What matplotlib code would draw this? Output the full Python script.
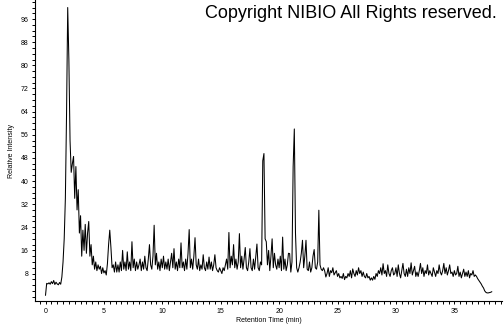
import numpy as np
import matplotlib
matplotlib.use("Agg")
import matplotlib.pyplot as plt
from matplotlib.ticker import MultipleLocator, FixedLocator

# Retention time sampling (min)
t_start = 0.0
t_step = 0.1

# Relative intensity, one row per minute (10 samples per row)
intensity = [
    0.5, 4.6, 4.4, 4.8, 4.3, 5.2, 4.5, 5.6, 4.2, 5.0,        # 0
    4.4, 4.1, 4.9, 4.3, 6.8, 12, 20, 34, 63, 100,            # 1
    82, 54, 43, 46, 48.5, 34, 45, 30, 37, 22,                # 2
    28, 14, 23, 16, 25, 15, 22, 26, 14, 18,                  # 3
    11, 14, 9.5, 12, 9, 11, 9.5, 10.5, 8, 10,                # 4
    8.2, 9, 7.5, 11.4, 18, 23, 17, 10, 11, 8.5,              # 5
    12, 8.5, 11, 8.5, 12, 9, 16, 9.5, 12, 9,                 # 6
    15.5, 9.5, 12, 9, 19, 10, 13, 9, 12, 9.5,                # 7
    11, 13, 9, 12, 9.5, 14, 10, 9, 13, 18,                   # 8
    11, 9.5, 14, 24.7, 11, 15, 9.5, 12, 9, 13,               # 9
    10, 14, 9.5, 12, 9.5, 13, 9, 12, 15, 10,                 # 10
    16.6, 9.5, 12, 9, 13, 10, 18.6, 10, 12, 9,               # 11
    13, 9.5, 15, 23.2, 10, 13, 9.5, 14, 20.4, 11,            # 12
    9.5, 13, 9, 11, 9.5, 14.5, 10, 9, 12, 9.5,               # 13
    13.7, 9.5, 12, 9, 11, 14.5, 10, 9, 8.5, 10,              # 14
    9, 8, 10, 9, 11, 13, 9.5, 22.2, 10, 14,                  # 15
    11, 18, 10, 13, 9.5, 12, 21.8, 10, 14, 9.5,              # 16
    13, 17, 10, 9, 12, 16.6, 10, 9, 13, 9.5,                 # 17
    14, 18.2, 10, 9, 12, 11, 47, 49.5, 20, 19,               # 18
    11, 16, 9, 14, 20, 10, 15, 11, 9.5, 13,                  # 19
    10, 14, 9, 20.6, 9.5, 13, 9, 11, 15, 14.9,               # 20
    8.5, 12, 45, 58, 22, 10, 8.5, 10, 12, 15,                # 21
    19.5, 10, 14, 19.5, 9.5, 9, 12, 8.5, 10, 14,             # 22
    16.3, 10, 9.5, 12, 29.9, 11, 9.5, 9, 10, 8.9,            # 23
    6.8, 8, 10, 7, 9, 8.3, 10, 7.5, 8.3, 9,                  # 24
    7, 8, 6.5, 7, 6.3, 8, 5.9, 7, 6.5, 8,                    # 25
    7, 9, 6.5, 9.6, 8, 7, 9, 7.5, 10, 8,                     # 26
    9, 7, 8.5, 7, 6.5, 8, 6.5, 7, 5.7, 6.5,                  # 27
    5.7, 7, 6, 8, 7, 9, 8, 10, 7.5, 11.4,                    # 28
    8, 9, 7, 11, 8, 7, 9, 10, 7.5, 8,                        # 29
    10, 7, 11, 8, 6.5, 9, 11.5, 8, 7, 9.5,                   # 30
    7, 10, 8, 11.7, 7.5, 9, 10.5, 7, 8.5, 7,                 # 31
    9, 11.5, 8, 10, 7, 9, 8, 11, 7.5, 9,                     # 32
    8, 7, 10, 8.5, 7, 9, 8, 11, 8.5, 7.5,                    # 33
    9, 11.5, 8, 10, 7.5, 9, 11, 8, 8.5, 7,                   # 34
    9, 7.5, 8, 10.5, 7, 8.5, 6.5, 8, 9.5, 7,                 # 35
    8.5, 7, 9, 6.5, 8, 7.5, 9, 7, 7.5, 7,                    # 36
    6.2, 5.6, 5.0, 4.4, 3.6, 3.0, 2.0, 1.5, 1.3, 1.3,        # 37
    1.4, 1.5, 1.7,                                           # 38
]

x_major = [0, 5, 10, 15, 20, 25, 30, 35]
y_major = [8, 16, 24, 32, 40, 48, 56, 64, 72, 80, 88, 96]

times = t_start + t_step * np.arange(len(intensity))

fig = plt.figure(figsize=(5.04, 3.25), dpi=100)
ax = fig.add_axes([35 / 504, 24 / 325, 467 / 504, 301 / 325])
ax.plot(times, intensity, color="black", lw=0.75)

ax.set_xlim(-0.9, 39.08)
ax.set_ylim(-1.5, 102.6)
ax.spines["top"].set_visible(False)
ax.spines["right"].set_visible(False)
for s in ("left", "bottom"):
    ax.spines[s].set_linewidth(0.8)

ax.xaxis.set_major_locator(FixedLocator(x_major))
ax.xaxis.set_minor_locator(MultipleLocator(0.5))
ax.yaxis.set_major_locator(FixedLocator(y_major))
ax.yaxis.set_minor_locator(MultipleLocator(2))
ax.tick_params(which="both", direction="out", length=2.2, width=0.7,
               labelsize=5, pad=2.5)

for lab in ax.get_xticklabels() + ax.get_yticklabels():
    lab.set_family("Liberation Sans")

ax.set_xlabel("Retention Time (min)", fontsize=5, family="Liberation Sans", labelpad=2)
ax.set_ylabel("Relative Intensity", fontsize=5, family="Liberation Sans", labelpad=4)

fig.text(497 / 504, 1 - 14 / 325, "Copyright NIBIO All Rights reserved.",
         ha="right", va="center", fontsize=13, family="Liberation Sans")

fig.savefig("out.png", dpi=100)
